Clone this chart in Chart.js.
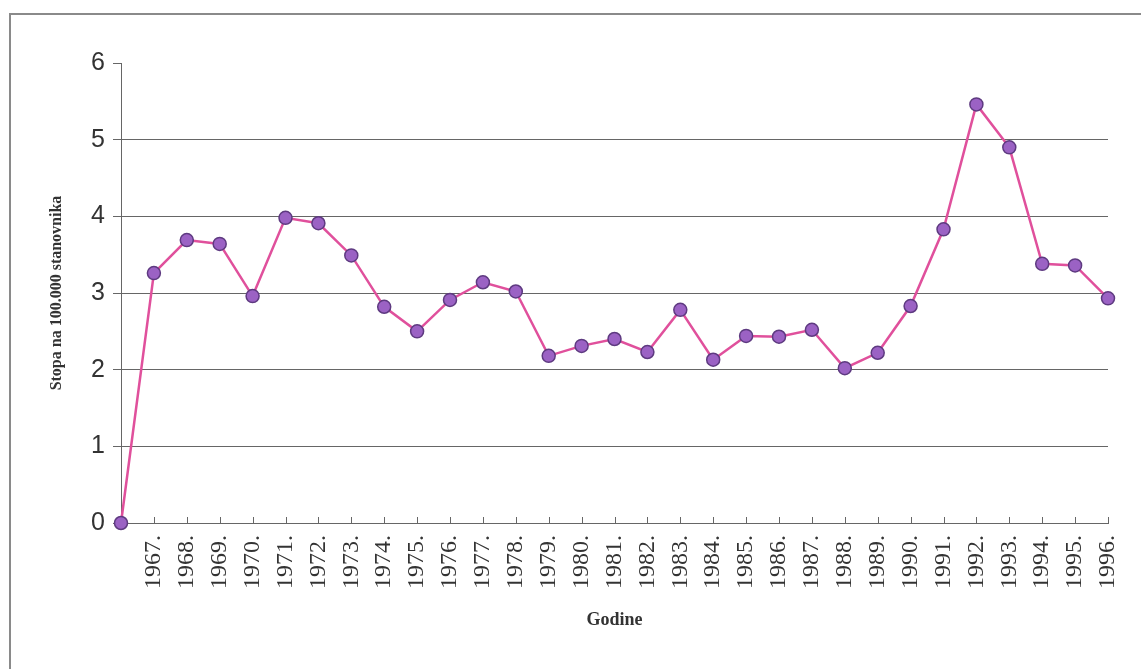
<!DOCTYPE html>
<html>
<head>
<meta charset="utf-8">
<script src="https://cdn.jsdelivr.net/npm/chart.js@4"></script>
<style>
  body { margin: 0; background: #fff; }
  #wrap { width: 1141px; height: 669px; position: relative; }
</style>
</head>
<body>
<div id="wrap"><canvas id="myChart" width="1141" height="669"></canvas></div>
<script>
const years = ['', '1967.', '1968.', '1969.', '1970.', '1971.', '1972.', '1973.', '1974.', '1975.',
    '1976.', '1977.', '1978.', '1979.', '1980.', '1981.', '1982.', '1983.', '1984.', '1985.',
    '1986.', '1987.', '1988.', '1989.', '1990.', '1991.', '1992.', '1993.', '1994.', '1995.', '1996.'];
const rates = [0, 3.26, 3.69, 3.64, 2.96, 3.98, 3.91, 3.49, 2.82, 2.50,
    2.91, 3.14, 3.02, 2.18, 2.31, 2.40, 2.23, 2.78, 2.13, 2.44,
    2.43, 2.52, 2.02, 2.22, 2.83, 3.83, 5.46, 4.90, 3.38, 3.36, 2.93];
const yTicks = [0, 1, 2, 3, 4, 5, 6];
const yTitle = 'Stopa na 100.000 stanovnika';
const xTitle = 'Godine';

const ctx = document.getElementById('myChart');

// frame lines (top + left) and inward x ticks
const frame = {
    id: 'frame',
    beforeDraw(chart) {
        const c = chart.ctx;
        c.save();
        c.fillStyle = '#fff';
        c.fillRect(0, 0, chart.width, chart.height);
        c.strokeStyle = '#8a8a8a';
        c.lineWidth = 2;
        c.beginPath();
        c.moveTo(10, chart.height);
        c.lineTo(10, 14);
        c.lineTo(chart.width, 14);
        c.stroke();
        c.restore();
    },
    afterDatasetsDraw(chart) {
        const x = chart.scales.x;
        const c = chart.ctx;
        c.save();
        c.strokeStyle = '#666';
        c.lineWidth = 1;
        c.beginPath();
        for (let i = 1; i < x.ticks.length; i++) {
            const px = Math.round(x.getPixelForTick(i)) + 0.5;
            c.moveTo(px, x.top);
            c.lineTo(px, x.top - 6);
        }
        c.stroke();
        c.restore();
    }
};

new Chart(ctx, {
    type: 'line',
    data: {
        labels: years,
        datasets: [{
            data: rates,
            borderColor: '#e0509c',
            borderWidth: 2.5,
            pointBackgroundColor: '#9b62c4',
            pointBorderColor: '#5e3a80',
            pointBorderWidth: 1.5,
            pointRadius: 6.5,
            tension: 0,
            clip: false
        }]
    },
    options: {
        responsive: false,
        animation: false,
        layout: { padding: { left: 47, top: 63, right: 33, bottom: 38 } },
        plugins: { legend: { display: false }, tooltip: { enabled: false } },
        scales: {
            x: {
                offset: false,
                grid: { display: true, color: 'transparent', drawTicks: false },
                border: { display: true, color: '#666', width: 1 },
                ticks: {
                    autoSkip: false, maxRotation: 90, minRotation: 90, padding: 12,
                    color: '#333',
                    font: { family: '"Liberation Serif", "Times New Roman", serif', size: 24 }
                },
                title: {
                    display: true, text: xTitle, color: '#333', padding: 0,
                    font: { family: '"Liberation Serif", "Times New Roman", serif', size: 18, weight: 'bold' }
                },
                afterFit(s) {
                    s.height = 669 - 38 - 523;
                    s.paddingLeft = 0;
                    s.paddingRight = 0;
                }
            },
            y: {
                min: 0, max: 6,
                afterBuildTicks(s) { s.ticks = yTicks.map(v => ({ value: v })); },
                grid: {
                    color: (c) => (c.tick && (c.tick.value === 6 || c.tick.value === 0)) ? 'transparent' : '#666',
                    tickColor: '#666', tickLength: 8, lineWidth: 1
                },
                border: { display: true, color: '#666', width: 1 },
                ticks: {
                    padding: 8, color: '#333',
                    font: { family: '"Liberation Sans", Arial, sans-serif', size: 25 }
                },
                title: {
                    display: true, text: yTitle, color: '#333', padding: 0,
                    font: { family: '"Liberation Serif", "Times New Roman", serif', size: 16, weight: 'bold' }
                },
                afterFit(s) { s.width = 121 - 47; }
            }
        }
    },
    plugins: [frame]
});
</script>
</body>
</html>
